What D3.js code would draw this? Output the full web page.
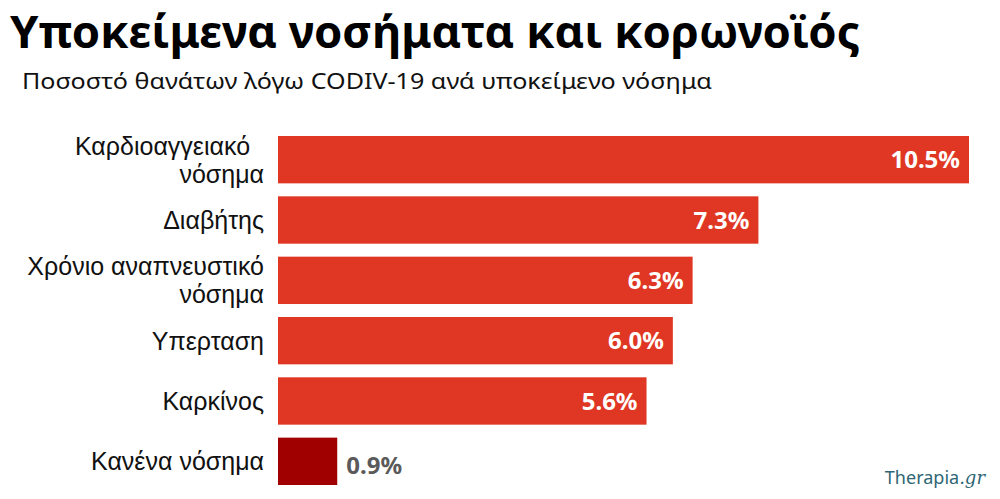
<!DOCTYPE html>
<html>
<head>
<meta charset="utf-8">
<script src="https://cdn.jsdelivr.net/npm/d3@7"></script>
<style>
  body { margin: 0; background: #fff; }
  svg { display: block; }
  text { font-family: "Noto Sans", "DejaVu Sans", sans-serif; }
</style>
</head>
<body>
<div id="chart"></div>
<script>
var categories = [
  ["Καρδιοαγγειακό\u00a0\u00a0", "νόσημα"],
  ["Διαβήτης"],
  ["Χρόνιο αναπνευστικό", "νόσημα"],
  ["Υπερταση"],
  ["Καρκίνος"],
  ["Κανένα νόσημα"]
];
var values = [10.5, 7.3, 6.3, 6.0, 5.6, 0.9];
var valueLabels = ["10.5%", "7.3%", "6.3%", "6.0%", "5.6%", "0.9%"];

var width = 1000;
var height = 499;

var svg = d3.select("#chart").append("svg")
  .attr("width", width)
  .attr("height", height);

/* Titles */
svg.append("text")
  .attr("x", 10)
  .attr("y", 48)
  .style("font-size", "44px")
  .style("font-weight", "bold")
  .style("fill", "#000")
  .attr("textLength", 850)
  .attr("lengthAdjust", "spacingAndGlyphs")
  .text("Υποκείμενα νοσήματα και κορωνοϊός");

svg.append("text")
  .attr("x", 22)
  .attr("y", 89)
  .style("font-size", "22px")
  .style("fill", "#111")
  .attr("textLength", 690)
  .attr("lengthAdjust", "spacingAndGlyphs")
  .text("Ποσοστό θανάτων λόγω CODIV-19 ανά υποκείμενο νόσημα");

/* Scales */
var xScale = d3.scaleLinear()
  .domain([0, 10.5])
  .range([278, 969]);

var yScale = d3.scaleBand()
  .domain(d3.range(values.length))
  .range([136, 485])
  .paddingInner(0.215)
  .paddingOuter(0);

var last = values.length - 1;

svg.append("g")
  .selectAll("rect")
  .data(values).enter()
  .append("rect")
  .attr("x", xScale(0))
  .attr("y", (d, i) => yScale(i))
  .attr("width", d => xScale(d) - xScale(0))
  .attr("height", yScale.bandwidth())
  .style("fill", (d, i) => i === last ? "#a00000" : "#e03724");

/* Value labels */
svg.append("g")
  .selectAll("text")
  .data(values).enter()
  .append("text")
  .attr("x", (d, i) => i === last ? xScale(d) + 9 : xScale(d) - 9)
  .attr("y", (d, i) => yScale(i) + yScale.bandwidth() / 2 + (i === last ? 4 : 0))
  .attr("dy", "0.36em")
  .attr("text-anchor", (d, i) => i === last ? "start" : "end")
  .style("font-size", "24px")
  .style("font-weight", "bold")
  .style("fill", (d, i) => i === last ? "#5a5a5a" : "#fff")
  .text((d, i) => valueLabels[i]);

/* Category labels */
var labels = svg.append("g")
  .selectAll("text")
  .data(categories).enter()
  .append("text")
  .attr("text-anchor", "end")
  .style("font-family", "'Liberation Sans', Arial, sans-serif")
  .style("font-size", "25px")
  .style("fill", "#111")
  .style("white-space", "pre")
  .attr("transform", (d, i) => `translate(264, ${yScale(i) + yScale.bandwidth() / 2})`);

labels.selectAll("tspan")
  .data(d => d.map((t, j) => ({ t: t, j: j, n: d.length }))).enter()
  .append("tspan")
  .attr("x", 0)
  .attr("y", d => (d.j - (d.n - 1) / 2) * 28)
  .attr("dy", "0.36em")
  .text(d => d.t);

/* Source */
var src = svg.append("text")
  .attr("x", 985)
  .attr("y", 484)
  .attr("text-anchor", "end")
  .style("font-size", "18px")
  .style("fill", "#2f6675");
src.append("tspan").text("Therapia");
src.append("tspan")
  .style("font-family", "'DejaVu Serif', 'Liberation Serif', serif")
  .style("font-style", "italic")
  .text(".gr");
</script>
</body>
</html>
